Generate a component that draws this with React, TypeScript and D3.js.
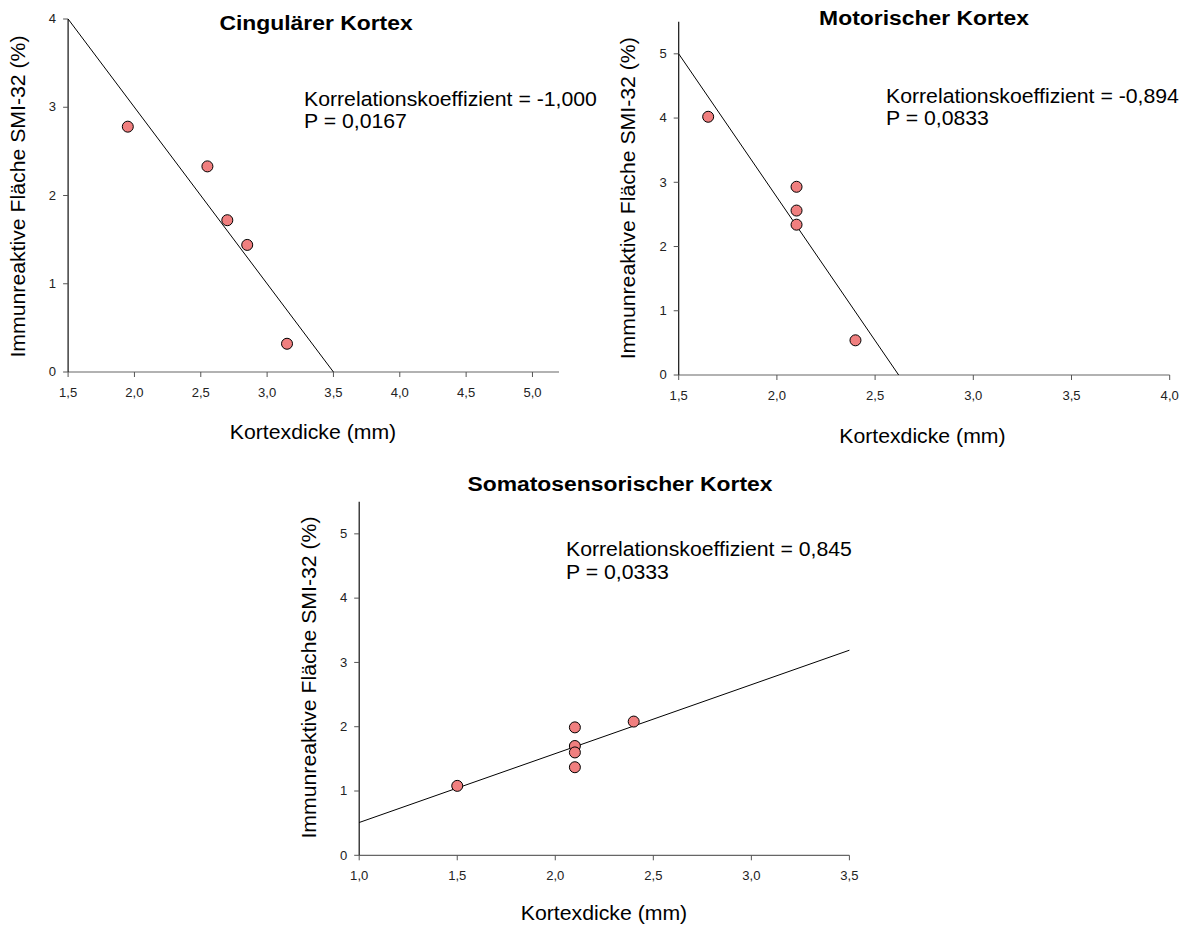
import React from "react";
import * as d3 from "d3";

// ---------- data ----------
const cingX = [1.95, 2.55, 2.7, 2.85, 3.15];
const cingY = [2.78, 2.33, 1.72, 1.44, 0.32];
const cingLineX = [1.5, 3.5];
const cingLineY = [4.0, 0.0];
const cingXTicks = [1.5, 2.0, 2.5, 3.0, 3.5, 4.0, 4.5, 5.0];
const cingYTicks = [0, 1, 2, 3, 4];

const motX = [1.65, 2.1, 2.1, 2.1, 2.4];
const motY = [4.02, 2.93, 2.56, 2.34, 0.54];
const motLineX = [1.5, 2.62];
const motLineY = [5.0, 0.0];
const motXTicks = [1.5, 2.0, 2.5, 3.0, 3.5, 4.0];
const motYTicks = [0, 1, 2, 3, 4, 5];

const somX = [1.5, 2.1, 2.1, 2.1, 2.1, 2.4];
const somY = [1.08, 1.99, 1.7, 1.6, 1.37, 2.08];
const somLineX = [1.0, 3.5];
const somLineY = [0.51, 3.19];
const somXTicks = [1.0, 1.5, 2.0, 2.5, 3.0, 3.5];
const somYTicks = [0, 1, 2, 3, 4, 5];

const titles = ["Cingulärer Kortex", "Motorischer Kortex", "Somatosensorischer Kortex"];
const corrTexts = [
  "Korrelationskoeffizient = -1,000",
  "Korrelationskoeffizient = -0,894",
  "Korrelationskoeffizient = 0,845",
];
const pTexts = ["P = 0,0167", "P = 0,0833", "P = 0,0333"];
const xLabel = "Kortexdicke (mm)";
const yLabel = "Immunreaktive Fläche SMI-32 (%)";

// ---------- layout ----------
const FONT = "Arial, 'Liberation Sans', Helvetica, sans-serif";
const SX = 1.09;

type Panel = {
  xs: number[];
  ys: number[];
  lx: number[];
  ly: number[];
  xTicks: number[];
  yTicks: number[];
  xDomain: [number, number];
  yDomain: [number, number];
  xRange: [number, number];
  yRange: [number, number];
  title: string;
  titlePos: [number, number];
  corr: string;
  p: string;
  annPos: [number, number, number];
  yLabPos: [number, number];
  xLabPos: [number, number];
};

const panels: Panel[] = [
  {
    xs: cingX, ys: cingY, lx: cingLineX, ly: cingLineY,
    xTicks: cingXTicks, yTicks: cingYTicks,
    xDomain: [1.5, 5.2], yDomain: [0, 4],
    xRange: [68.1, 559], yRange: [372, 19],
    title: titles[0], titlePos: [316, 30],
    corr: corrTexts[0], p: pTexts[0], annPos: [304, 106, 128],
    yLabPos: [18.5, 196.5], xLabPos: [313, 439],
  },
  {
    xs: motX, ys: motY, lx: motLineX, ly: motLineY,
    xTicks: motXTicks, yTicks: motYTicks,
    xDomain: [1.5, 4.0], yDomain: [0, 5.5],
    xRange: [678.7, 1169.7], yRange: [375, 21.7],
    title: titles[1], titlePos: [924, 25],
    corr: corrTexts[1], p: pTexts[1], annPos: [886, 103, 125],
    yLabPos: [628, 198.3], xLabPos: [922.4, 443],
  },
  {
    xs: somX, ys: somY, lx: somLineX, ly: somLineY,
    xTicks: somXTicks, yTicks: somYTicks,
    xDomain: [1.0, 3.5], yDomain: [0, 5.5],
    xRange: [359.2, 849.4], yRange: [855.3, 501.7],
    title: titles[2], titlePos: [620, 491],
    corr: corrTexts[2], p: pTexts[2], annPos: [566, 556, 579],
    yLabPos: [309.5, 677.5], xLabPos: [604, 920],
  },
];

const fmtX = (v: number) => d3.format(".1f")(v).replace(".", ",");

function SText(props: {
  x: number; y: number; size: number; anchor?: string; bold?: boolean;
  rotate?: number; dy?: string; fill?: string; children: React.ReactNode;
}) {
  const { x, y, size, anchor = "start", bold, rotate = 0, dy, fill = "#000" } = props;
  return (
    <text
      transform={`translate(${x},${y}) rotate(${rotate}) scale(${SX},1)`}
      fontFamily={FONT}
      fontSize={size}
      fontWeight={bold ? "bold" : "normal"}
      textAnchor={anchor}
      dy={dy}
      fill={fill}
    >
      {props.children}
    </text>
  );
}

function ScatterPanel({ pn }: { pn: Panel }) {
  const x = d3.scaleLinear().domain(pn.xDomain).range(pn.xRange);
  const y = d3.scaleLinear().domain(pn.yDomain).range(pn.yRange);
  const line = d3
    .line<number>()
    .x((_, i) => x(pn.lx[i]))
    .y((_, i) => y(pn.ly[i]));
  const y0 = y(0);
  const x0 = pn.xRange[0];
  return (
    <g>
      {/* x axis */}
      <line x1={x0} x2={pn.xRange[1]} y1={y0} y2={y0} stroke="#666" strokeWidth={1.2} />
      {pn.xTicks.map((t) => (
        <g key={"xt" + t}>
          <line x1={x(t)} x2={x(t)} y1={y0} y2={y0 + 5} stroke="#555" strokeWidth={1} />
          <SText x={x(t)} y={y0 + 25} size={12} anchor="middle" fill="#222">
            {fmtX(t)}
          </SText>
        </g>
      ))}
      {/* y axis */}
      <line x1={x0} x2={x0} y1={pn.yRange[1]} y2={y0} stroke="#111" strokeWidth={1.2} />
      {pn.yTicks.map((t) => (
        <g key={"yt" + t}>
          <line x1={x0 - 5} x2={x0} y1={y(t)} y2={y(t)} stroke="#555" strokeWidth={1} />
          <SText x={x0 - 12} y={y(t)} size={12} anchor="end" dy="0.35em" fill="#222">
            {String(t)}
          </SText>
        </g>
      ))}
      {/* regression line */}
      <path d={line(pn.lx) || ""} fill="none" stroke="#000" strokeWidth={1} />
      {/* points */}
      {pn.xs.map((v, i) => (
        <circle key={"p" + i} cx={x(v)} cy={y(pn.ys[i])} r={5.5} fill="#f07f7f" stroke="#000" strokeWidth={1} />
      ))}
      {/* texts */}
      <SText x={pn.titlePos[0]} y={pn.titlePos[1]} size={21} anchor="middle" bold>
        {pn.title}
      </SText>
      <SText x={pn.annPos[0]} y={pn.annPos[1]} size={19.5}>
        {pn.corr}
      </SText>
      <SText x={pn.annPos[0]} y={pn.annPos[2]} size={19.5}>
        {pn.p}
      </SText>
      <SText x={pn.xLabPos[0]} y={pn.xLabPos[1]} size={19.5} anchor="middle">
        {xLabel}
      </SText>
      <SText x={pn.yLabPos[0]} y={pn.yLabPos[1]} size={19.5} anchor="middle" rotate={-90} dy="0.35em">
        {yLabel}
      </SText>
    </g>
  );
}

export default function App() {
  return (
    <svg
      width={1189}
      height={930}
      style={{ position: "absolute", left: 0, top: 0, background: "#fff" }}
    >
      <rect width={1189} height={930} fill="#fff" />
      {panels.map((pn, i) => (
        <ScatterPanel key={i} pn={pn} />
      ))}
    </svg>
  );
}
